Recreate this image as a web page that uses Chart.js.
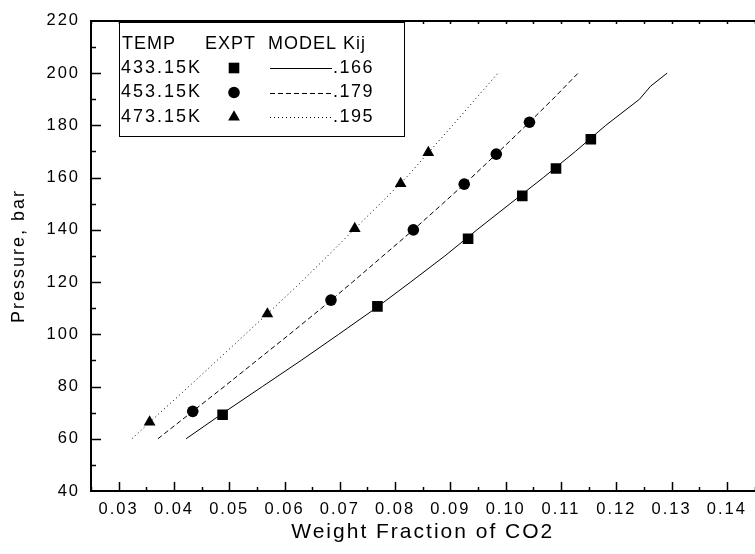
<!DOCTYPE html>
<html>
<head>
<meta charset="utf-8">
<script src="https://cdn.jsdelivr.net/npm/chart.js@4"></script>
<style>
  html, body { margin: 0; padding: 0; background: #fff; overflow: hidden; }
  #wrap { position: relative; width: 762px; height: 554px; }
</style>
</head>
<body>
<div id="wrap"><canvas id="chart"></canvas></div>
<script>
// experimental points (EXPT)
const expt433X = [0.0488, 0.0768, 0.0932, 0.1030, 0.1091, 0.1154];
const expt433Y = [69.2, 110.7, 136.6, 153.0, 163.5, 174.7];
const expt453X = [0.0434, 0.0684, 0.0833, 0.0925, 0.0983, 0.1043];
const expt453Y = [70.5, 113.1, 140.0, 157.5, 169.0, 181.2];
const expt473X = [0.0356, 0.0569, 0.0727, 0.0810, 0.0860];
const expt473Y = [66.4, 107.8, 140.5, 157.7, 169.6];

// model curves (MODEL)
const model433X = [0.0422, 0.0490, 0.0560, 0.0630, 0.0698, 0.0765, 0.0828, 0.0890, 0.0948, 0.1008, 0.1068, 0.1126, 0.1181, 0.1242, 0.1262, 0.1292];
const model433Y = [60, 70, 80, 90, 100, 110, 120, 130, 140, 150, 160, 170, 180, 190, 195, 200];
const model453X = [0.0371, 0.0431, 0.0491, 0.0550, 0.0609, 0.0667, 0.0723, 0.0778, 0.0833, 0.0886, 0.0938, 0.0988, 0.1037, 0.1085, 0.1131];
const model453Y = [60, 70, 80, 90, 100, 110, 120, 130, 140, 150, 160, 170, 180, 190, 200];
const model473X = [0.0324, 0.0375, 0.0427, 0.0478, 0.0529, 0.0580, 0.0630, 0.0678, 0.0725, 0.0773, 0.0820, 0.0862, 0.0904, 0.0945, 0.0986];
const model473Y = [60, 70, 80, 90, 100, 110, 120, 130, 140, 150, 160, 170, 180, 190, 200];

// legend table
const temps = ['433.15K', '453.15K', '473.15K'];
const kijs = ['.166', '.179', '.195'];

// tick labels
const xTicks = [0.03, 0.04, 0.05, 0.06, 0.07, 0.08, 0.09, 0.10, 0.11, 0.12, 0.13, 0.14];
const yTicks = [40, 60, 80, 100, 120, 140, 160, 180, 200, 220];

const FAMILY = '"Liberation Sans", Arial, Helvetica, sans-serif';
const SPACING = '2px';
const styles = ['rect', 'circle', 'triangle'];
const radii = [7.5, 5.8, 6.8];
const dashes = [[], [5, 3], [1, 3]];

const pts = (xs, ys) => xs.map((x, i) => ({ x: x, y: ys[i] }));

function modelSet(xs, ys, k) {
  return {
    data: pts(xs, ys), showLine: true, borderColor: '#000', borderWidth: 1,
    borderDash: dashes[k], pointRadius: 0, tension: 0, fill: false
  };
}
function exptSet(xs, ys, k) {
  return {
    data: pts(xs, ys), showLine: false, pointStyle: styles[k], pointRadius: radii[k],
    pointBackgroundColor: '#000', pointBorderColor: '#000', pointBorderWidth: 0
  };
}

const spacing = {
  id: 'spacing',
  beforeLayout(chart) { chart.ctx.letterSpacing = SPACING; },
  beforeDraw(chart) { chart.ctx.letterSpacing = SPACING; }
};

const frame = {
  id: 'frame',
  afterDatasetsDraw(chart) {
    const ctx = chart.ctx, a = chart.chartArea;
    const xs = chart.scales.x, ys = chart.scales.y;
    ctx.save();
    ctx.strokeStyle = '#000';
    ctx.lineWidth = 2;
    ctx.beginPath();
    ctx.moveTo(a.right + 2, a.top); ctx.lineTo(a.left, a.top);
    ctx.lineTo(a.left, a.bottom); ctx.lineTo(a.right + 2, a.bottom);
    ctx.stroke();
    ctx.lineWidth = 1.5;
    ctx.beginPath();
    for (let v = 0.025; v < 0.1455; v += 0.005) {
      const px = Math.round(xs.getPixelForValue(v)) + 0.5;
      const major = xTicks.some(t => Math.abs(t - v) < 1e-6);
      ctx.moveTo(px, a.bottom); ctx.lineTo(px, a.bottom - (major ? 9 : 4));
      ctx.moveTo(px, a.top); ctx.lineTo(px, a.top + 3);
    }
    for (let v = 50; v < 220; v += 10) {
      const py = Math.round(ys.getPixelForValue(v)) + 0.5;
      const major = yTicks.includes(v);
      ctx.moveTo(a.left, py); ctx.lineTo(a.left + (major ? 10 : 5), py);
    }
    ctx.stroke();
    ctx.restore();
  }
};

const tableLegend = {
  id: 'tableLegend',
  afterDraw(chart) {
    const ctx = chart.ctx;
    ctx.save();
    ctx.fillStyle = '#fff';
    ctx.fillRect(119, 22, 286, 115);
    ctx.strokeStyle = '#000';
    ctx.lineWidth = 1;
    ctx.strokeRect(119.5, 22.5, 285, 114);
    ctx.fillStyle = '#000';
    ctx.textBaseline = 'middle';
    ctx.font = '18px ' + FAMILY;
    ctx.letterSpacing = '1px';
    ctx.fillText('TEMP', 122, 44);
    ctx.fillText('EXPT', 205, 44);
    ctx.fillText('MODEL', 268, 44);
    ctx.fillText('Kij', 343, 44);
    temps.forEach((t, i) => {
      const y = 68 + i * 24.5;
      ctx.fillStyle = '#000';
      ctx.letterSpacing = '2px';
      ctx.fillText(t, 121, y);
      Chart.helpers.drawPoint(ctx, { pointStyle: styles[i], radius: radii[i], rotation: 0, borderWidth: 0 }, 234, y);
      ctx.beginPath();
      ctx.setLineDash(dashes[i]);
      ctx.moveTo(270, Math.round(y) + 0.5);
      ctx.lineTo(332, Math.round(y) + 0.5);
      ctx.stroke();
      ctx.setLineDash([]);
      ctx.letterSpacing = '1.5px';
      ctx.fillText(kijs[i], 333, y);
    });
    ctx.restore();
  }
};

new Chart(document.getElementById('chart'), {
  type: 'scatter',
  data: {
    datasets: [
      modelSet(model433X, model433Y, 0),
      modelSet(model453X, model453Y, 1),
      modelSet(model473X, model473Y, 2),
      exptSet(expt433X, expt433Y, 0),
      exptSet(expt453X, expt453Y, 1),
      exptSet(expt473X, expt473Y, 2)
    ]
  },
  options: {
    responsive: true,
    maintainAspectRatio: false,
    animation: false,
    layout: { padding: { top: 13, right: 5, left: 0, bottom: 0 } },
    plugins: { legend: { display: false }, tooltip: { enabled: false } },
    scales: {
      x: {
        type: 'linear', min: 0.025, max: 0.145,
        afterFit: s => { s.height = 63; },
        afterBuildTicks: s => { s.ticks = xTicks.map(v => ({ value: v })); },
        grid: { display: false, drawTicks: false },
        border: { display: false },
        ticks: {
          padding: 9, color: '#000', maxRotation: 0, autoSkip: false,
          font: { family: FAMILY, size: 16.5 },
          callback: v => v.toFixed(2)
        },
        title: {
          display: true, text: 'Weight Fraction of CO2', color: '#000',
          font: { family: FAMILY, size: 21 }, padding: { top: 0, bottom: 9 }
        }
      },
      y: {
        type: 'linear', min: 40, max: 220,
        afterFit: s => { s.width = 91; },
        afterBuildTicks: s => { s.ticks = yTicks.map(v => ({ value: v })); },
        grid: { display: false, drawTicks: false },
        border: { display: false },
        ticks: {
          padding: 11, color: '#000', autoSkip: false,
          font: { family: FAMILY, size: 16.5 }
        },
        title: {
          display: true, text: 'Pressure, bar', color: '#000',
          font: { family: FAMILY, size: 18 }, padding: { top: 8, bottom: 0 }
        }
      }
    }
  },
  plugins: [spacing, frame, tableLegend]
});
</script>
</body>
</html>
